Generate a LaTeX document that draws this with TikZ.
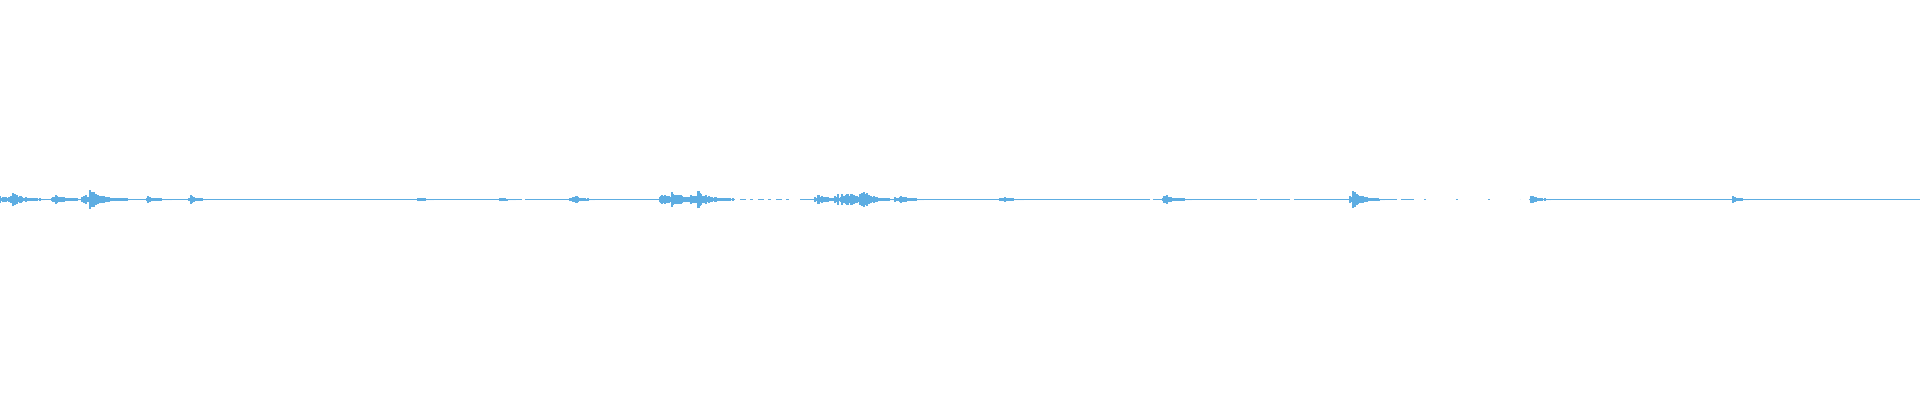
\documentclass[tikz,border=0pt]{standalone}
\begin{document}
\begin{tikzpicture}[x=1pt,y=1pt,wave/.style={draw={rgb,255:red,93;green,173;blue,226},line width=1.2pt}]
\useasboundingbox (0,0) rectangle (1920,400);
\pgfmathsetseed{7}
\def\c{200.5}
\draw[wave] (0,\c) -- (370,\c);
\draw[wave,dash pattern=on 60pt off 2pt on 90pt off 3pt] (370,\c) -- (735,\c);
\draw[wave,dash pattern=on 6pt off 4pt on 3pt off 5pt] (740,\c) -- (790,\c);
\draw[wave] (800,\c) -- (1080,\c);
\draw[wave,dash pattern=on 70pt off 3pt on 30pt off 4pt] (1080,\c) -- (1414,\c);
\draw[wave,dash pattern=on 2pt off 30pt] (1424,\c) -- (1520,\c);
\draw[wave] (1531,\c) -- (1920,\c);
\foreach \s/\p/\a/\d in {0/13/7/8, 52/55/5/8, 82/90/10/10, 147/148/3/6, 189/191/4/4, 418/418/2/4, 500/500/2/4, 570/575/4/5, 660/662/6/8, 668/672/9/10, 690/698/10/9, 815/818/5/8, 835/862/11/8, 895/900/4/6, 1000/1004/2/5, 1163/1164/5/7, 1350/1353/9/8, 1530/1531/4/5, 1733/1733/3/4} {
  \pgfmathsetmacro{\e}{\p+4*\d}
  \pgfmathsetmacro{\sn}{\s+1}
  \foreach \x in {\s,\sn,...,\e} {
    \pgfmathsetmacro{\h}{ifthenelse(\x<\p, 0.45*\a*rnd+0.8, \a*exp(-(\x-\p)/\d)*(0.35+0.65*rnd)+0.8)}
    \draw[wave] (\x,\c-\h) -- (\x,\c+\h);
  }
}
\end{tikzpicture}
\end{document}
